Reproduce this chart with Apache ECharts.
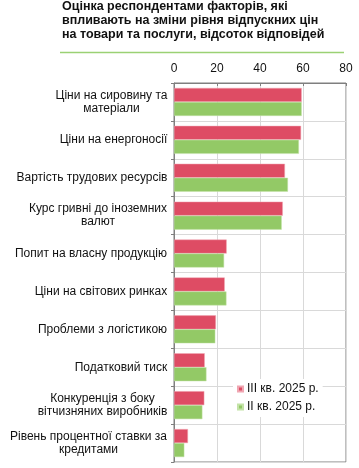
<!DOCTYPE html>
<html><head><meta charset="utf-8">
<script src="https://cdn.jsdelivr.net/npm/echarts@6/dist/echarts.min.js"></script>
<style>html,body{margin:0;padding:0;background:#fff}#c{width:359px;height:468px}</style>
</head><body><div id="c"></div>
<script>
const categories = [
  'Ціни на сировину та\nматеріали',
  'Ціни на енергоносії',
  'Вартість трудових ресурсів',
  'Курс гривні до іноземних\nвалют',
  'Попит на власну продукцію',
  'Ціни на світових ринках',
  'Проблеми з логістикою',
  'Податковий тиск',
  'Конкуренція з боку\nвітчизняних виробників',
  'Рівень процентної ставки за\nкредитами'
];
const seriesNames = ['III кв. 2025 р.', 'II кв. 2025 р.'];
const q3 = [59.4, 59.1, 51.6, 50.6, 24.5, 23.6, 19.5, 14.3, 14.1, 6.5];
const q2 = [59.4, 58.1, 53.0, 50.1, 23.3, 24.4, 19.2, 15.1, 13.2, 4.8];
const xTicks = [0, 20, 40, 60, 80];

const FONT = '"Liberation Sans", Arial, sans-serif';
const ctx = document.createElement('canvas').getContext('2d');
ctx.font = '12px "Liberation Sans"';
const rich = {};
categories.forEach((c, i) => {
  const w = Math.max(...c.split('\n').map(s => ctx.measureText(s).width));
  rich['r' + i] = {width: Math.ceil(w) + 1, align: 'center', fontSize: 12, lineHeight: 13, color: '#111', fontFamily: FONT};
});

const chart = echarts.init(document.getElementById('c'), null, {renderer: 'canvas'});
chart.setOption({
  animation: false,
  title: {
    text: 'Оцінка респондентами факторів, які\nвпливають на зміни рівня відпускних цін\nна товари та послуги, відсоток відповідей',
    left: 58, top: 0, padding: [0, 0, 0, 4],
    textStyle: {fontFamily: FONT, fontSize: 12.5, fontWeight: 'bold', color: '#111', lineHeight: 14}
  },
  graphic: [{
    type: 'line', shape: {x1: 60, y1: 52.5, x2: 344, y2: 52.5},
    style: {stroke: '#9bd174', lineWidth: 1.5}
  }],
  grid: {left: 174, top: 83, width: 172, height: 379, show: true, borderColor: '#7f7f7f', borderWidth: 1, containLabel: false},
  legend: {
    orient: 'vertical', left: 233, top: 379,
    itemWidth: 5, itemHeight: 5, itemGap: 4, icon: 'rect',
    backgroundColor: '#fff', padding: [3, 4, 3, 4],
    textStyle: {fontFamily: FONT, fontSize: 12, color: '#111', padding: [0, 0, 0, -1], lineHeight: 14},
    data: seriesNames
  },
  xAxis: {
    type: 'value', position: 'top', min: xTicks[0], max: xTicks[xTicks.length - 1], interval: 20,
    axisLine: {show: true, lineStyle: {color: '#7f7f7f'}},
    axisTick: {show: true, inside: true, length: 3, lineStyle: {color: '#7f7f7f'}},
    axisLabel: {fontFamily: FONT, fontSize: 12, color: '#111', margin: 8},
    splitLine: {show: true, lineStyle: {color: '#d9d9d9'}}
  },
  yAxis: {
    type: 'category', inverse: true, data: categories,
    axisLine: {show: true, lineStyle: {color: '#7f7f7f'}},
    axisTick: {show: true, length: 3, lineStyle: {color: '#7f7f7f'}},
    splitLine: {show: true, lineStyle: {color: '#d9d9d9'}},
    axisLabel: {
      margin: 6, align: 'right',
      formatter: (v, i) => v.split('\n').map(s => '{r' + i + '|' + s + '}').join('\n'),
      rich: rich
    }
  },
  series: [
    {name: seriesNames[0], type: 'bar', data: q3, barWidth: 14, barGap: '0%',
     itemStyle: {color: '#de4c64', borderColor: '#f0a6b2', borderWidth: 0.5}},
    {name: seriesNames[1], type: 'bar', data: q2, barWidth: 14, barGap: '0%',
     itemStyle: {color: '#93c966', borderColor: '#c4e3a8', borderWidth: 0.5}}
  ]
});
</script></body></html>
